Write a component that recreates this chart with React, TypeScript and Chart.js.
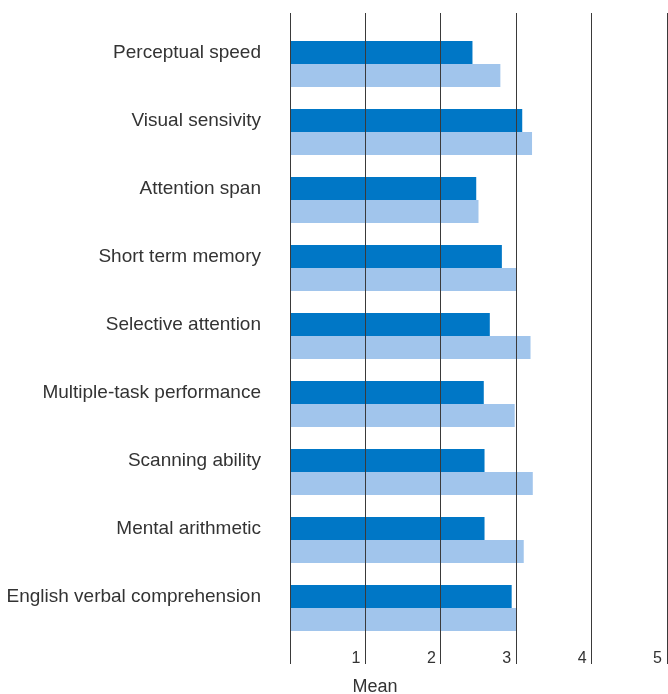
import React, { useEffect, useRef } from "react";
import { Chart, registerables } from "chart.js";

Chart.register(...registerables);

const categories = [
  "Perceptual speed",
  "Visual sensivity",
  "Attention span",
  "Short term memory",
  "Selective attention",
  "Multiple-task performance",
  "Scanning ability",
  "Mental arithmetic",
  "English verbal comprehension",
];

const seriesDark = [2.42, 3.08, 2.47, 2.81, 2.65, 2.57, 2.58, 2.58, 2.94];
const seriesLight = [2.79, 3.21, 2.5, 3.01, 3.19, 2.98, 3.22, 3.1, 3.01];

const xTickValues = [0, 1, 2, 3, 4, 5];
const axisTitle = "Mean";

const FONT = '"Liberation Sans", Arial, Helvetica, sans-serif';
const TEXT = "#333333";
const GRID = "#3a3a3a";

export default function App() {
  const ref = useRef<HTMLCanvasElement | null>(null);

  useEffect(() => {
    document.body.style.margin = "0";
    const canvas = ref.current;
    if (!canvas) return;

    const titlePlugin = {
      id: "meanTitle",
      afterDraw(chart: any) {
        const { ctx, chartArea } = chart;
        ctx.save();
        ctx.font = `18px ${FONT}`;
        ctx.fillStyle = TEXT;
        ctx.textAlign = "center";
        ctx.textBaseline = "alphabetic";
        ctx.fillText(axisTitle, chartArea.left + 85, 692);
        ctx.restore();
      },
    };

    const chart = new Chart(canvas, {
      type: "bar",
      data: {
        labels: categories,
        datasets: [
          {
            label: "A",
            data: seriesDark,
            backgroundColor: "#0077c6",
            borderWidth: 0,
            categoryPercentage: 46 / 68,
            barPercentage: 1,
          },
          {
            label: "B",
            data: seriesLight,
            backgroundColor: "#a1c5ec",
            borderWidth: 0,
            categoryPercentage: 46 / 68,
            barPercentage: 1,
          },
        ],
      },
      options: {
        indexAxis: "y",
        responsive: false,
        animation: false,
        layout: { padding: { left: 0, right: 1, top: 0, bottom: 0 } },
        plugins: {
          legend: { display: false },
          tooltip: { enabled: false },
        },
        scales: {
          y: {
            type: "category",
            position: "left",
            grid: { display: false, drawTicks: false },
            border: { display: false },
            ticks: {
              padding: 29,
              labelOffset: -11.5,
              color: TEXT,
              font: { family: FONT, size: 19 },
            },
            afterFit(scale: any) {
              scale.width = 290;
              scale.paddingTop = 0;
              scale.paddingBottom = 0;
            },
          },
          x: {
            type: "linear",
            position: "bottom",
            min: 0,
            max: 5,
            afterBuildTicks(scale: any) {
              scale.ticks = xTickValues.map((v) => ({ value: v }));
            },
            grid: {
              color: GRID,
              lineWidth: 1,
              drawOnChartArea: true,
              drawTicks: true,
              tickLength: 22,
              z: 1,
            },
            border: { display: false },
            ticks: {
              align: "end",
              labelOffset: -5,
              padding: -15,
              color: TEXT,
              font: { family: FONT, size: 16 },
              callback: (v: any) => (Number(v) === 0 ? "" : String(v)),
            },
            afterFit(scale: any) {
              scale.height = 52;
            },
          },
          xTop: {
            type: "linear",
            axis: "x",
            position: "top",
            min: 0,
            max: 5,
            afterBuildTicks(scale: any) {
              scale.ticks = xTickValues.map((v) => ({ value: v }));
            },
            grid: {
              color: GRID,
              lineWidth: 1,
              drawOnChartArea: false,
              drawTicks: true,
              tickLength: 17,
              z: 1,
            },
            border: { display: false },
            ticks: { display: false },
            afterFit(scale: any) {
              scale.height = 30;
            },
          },
        },
      } as any,
      plugins: [titlePlugin],
    });

    return () => chart.destroy();
  }, []);

  return (
    <div style={{ width: 668, height: 694 }}>
      <canvas ref={ref} width={668} height={694} />
    </div>
  );
}
